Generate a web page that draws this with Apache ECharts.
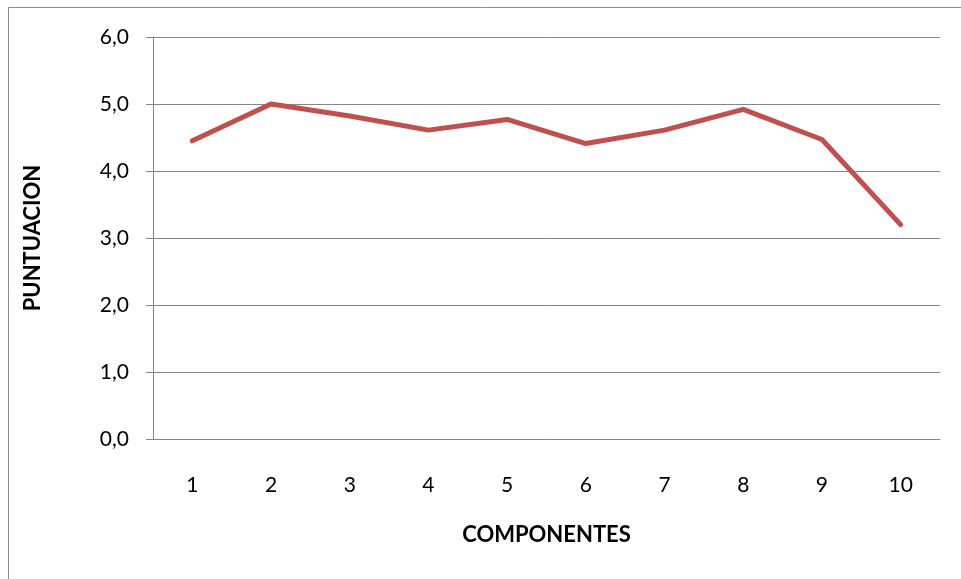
<!DOCTYPE html>
<html>
<head>
<meta charset="utf-8">
<script src="https://cdn.jsdelivr.net/npm/echarts@6/dist/echarts.min.js"></script>
<style>
  html, body { margin: 0; padding: 0; background: #fff; }
  #chart { width: 961px; height: 579px; }
</style>
</head>
<body>
<div id="chart"></div>
<script>
// Puntuación media por componente
const componentes = ['1', '2', '3', '4', '5', '6', '7', '8', '9', '10'];
const puntuacion = [4.45, 5.0, 4.82, 4.61, 4.77, 4.41, 4.61, 4.92, 4.47, 3.2];
const yMin = 0, yMax = 6, yStep = 1;

const FONT = 'Lato, "Open Sans", "Liberation Sans", sans-serif';
const GRID_COLOR = '#868686';

const chart = echarts.init(document.getElementById('chart'), null, { renderer: 'canvas' });
chart.setOption({
  animation: false,
  backgroundColor: '#ffffff',
  graphic: [{
    type: 'rect',
    shape: { x: 8.5, y: 7.5, width: 1000, height: 1000 },
    style: { fill: 'none', stroke: '#8c8c8c', lineWidth: 1 },
    silent: true
  }],
  grid: { left: 153, right: 21, top: 37, bottom: 140, containLabel: false },
  xAxis: {
    type: 'category',
    data: componentes,
    boundaryGap: true,
    name: 'COMPONENTES',
    nameLocation: 'middle',
    nameGap: 85,
    nameTextStyle: { fontFamily: FONT, fontSize: 22, fontWeight: 'bold', color: '#000' },
    axisLine: { show: true, lineStyle: { color: GRID_COLOR, width: 1 } },
    axisTick: { show: false },
    axisLabel: { fontFamily: FONT, fontSize: 21, color: '#000', margin: 36 }
  },
  yAxis: {
    type: 'value',
    min: yMin,
    max: yMax,
    interval: yStep,
    name: 'PUNTUACION',
    nameLocation: 'middle',
    nameGap: 109,
    nameRotate: 90,
    nameTextStyle: { fontFamily: FONT, fontSize: 22, fontWeight: 'bold', color: '#000' },
    axisLine: { show: true, lineStyle: { color: GRID_COLOR, width: 1 } },
    axisTick: { show: true, length: 7, lineStyle: { color: GRID_COLOR, width: 1 } },
    splitLine: { show: true, lineStyle: { color: GRID_COLOR, width: 1 } },
    axisLabel: {
      fontFamily: FONT, fontSize: 21, color: '#000', margin: 24,
      formatter: v => v.toFixed(1).replace('.', ',')
    }
  },
  series: [{
    type: 'line',
    data: puntuacion,
    symbol: 'none',
    lineStyle: { color: '#C0504D', width: 5, cap: 'round', join: 'round' },
    itemStyle: { color: '#C0504D' }
  }]
});
</script>
</body>
</html>
